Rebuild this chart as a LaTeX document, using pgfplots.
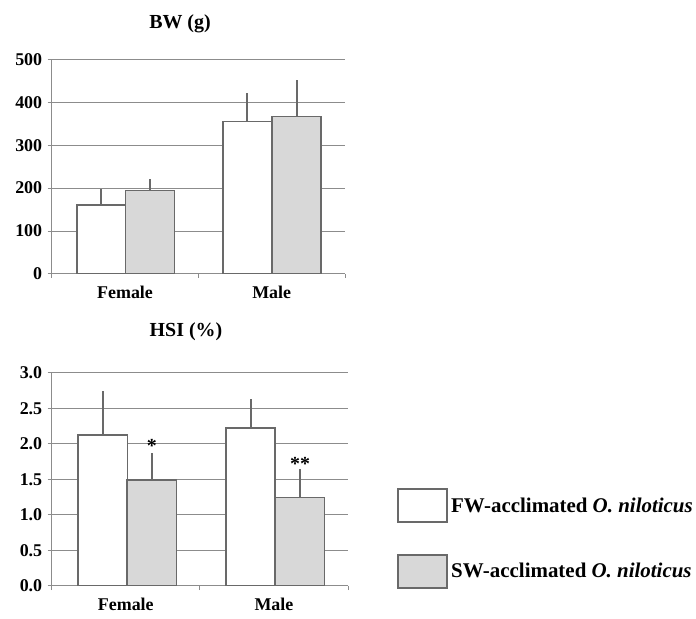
\documentclass[border=0pt]{standalone}
\usepackage{pgfplots}
\pgfplotsset{compat=1.18}
\usepackage{fontspec}
\setmainfont{Liberation Serif}
\definecolor{edge}{RGB}{105,105,105}
\definecolor{gridc}{RGB}{140,140,140}
\definecolor{swfill}{RGB}{216,216,216}
\pgfplotsset{
 mybars/.style={
  scale only axis, xmin=0.5, xmax=2.5, ymin=0,
  axis x line=bottom, axis y line=left,
  axis line style={-, draw=gridc, line width=1bp},
  xtick={0.5,1.5,2.5}, xticklabels={},
  extra x ticks={1,2}, extra x tick labels={Female,Male},
  extra x tick style={major tick length=0pt, grid=none},
  xticklabel style={yshift=-9bp},
  yticklabel style={xshift=-2bp},
  ymajorgrids, grid style={gridc, line width=1bp},
  tick align=outside, major tick length=4bp, tick style={gridc, line width=1bp},
  tick label style={font=\fontsize{18}{18}\selectfont\bfseries},
  /pgf/number format/assume math mode=true,
  ybar, bar width=0.333, bar shift=0pt,
  error bars/y dir=plus, error bars/y explicit, error bars/error mark=none,
  error bars/error bar style={draw=edge, line width=2bp},
 },
 fw/.style={draw=edge, fill=white, line width=1.6bp},
 sw/.style={draw=edge, fill=swfill, line width=1.6bp},
}
\begin{document}
\begin{tikzpicture}
\useasboundingbox (0,0) rectangle (696bp,619bp);
\begin{axis}[mybars, width=293.3bp, height=214.7bp, at={(51.7bp,345bp)}, anchor=south west,
  ymax=500, ytick={0,100,...,500}]
\addplot[fw] coordinates {(0.837,160.7) +- (0,36.3) (1.835,355) +- (0,67)};
\addplot[sw] coordinates {(1.170,194) +- (0,26.5) (2.170,366.5) +- (0,85.5)};
\end{axis}
\begin{axis}[mybars, width=296.3bp, height=213.3bp, at={(51.7bp,33bp)}, anchor=south west,
  ymax=3, ytick={0,0.5,...,3},
  yticklabel style={/pgf/number format/.cd, fixed, fixed zerofill, precision=1},
  legend style={draw=none, fill=none, at={(1.165,0.2227)}, anchor=west, inner sep=0pt,
    row sep=31bp, font=\fontsize{21}{21}\selectfont\bfseries, nodes={inner xsep=3.5bp, inner ysep=0pt}},
  legend cell align=left,
  legend image code/.code={\draw[#1] (0bp,-16.5bp) rectangle (49bp,16.5bp);}]
\addplot[fw] coordinates {(0.844,2.123) +- (0,0.624) (1.842,2.222) +- (0,0.403)};
\addplot[sw] coordinates {(1.176,1.49) +- (0,0.376) (2.176,1.242) +- (0,0.398)};
\node[anchor=base, font=\fontsize{20}{20}\selectfont\bfseries] at (axis cs:1.176,1.875) {*};
\node[anchor=base, font=\fontsize{20}{20}\selectfont\bfseries] at (axis cs:2.176,1.63) {**};
\legend{FW-acclimated \textit{O. niloticus}, SW-acclimated \textit{O. niloticus}}
\end{axis}
\node[font=\fontsize{20}{20}\selectfont\bfseries] at (180bp,595bp) {BW (g)};
\node[font=\fontsize{20}{20}\selectfont\bfseries] at (186bp,287bp) {HSI (\%)};
\end{tikzpicture}
\end{document}
